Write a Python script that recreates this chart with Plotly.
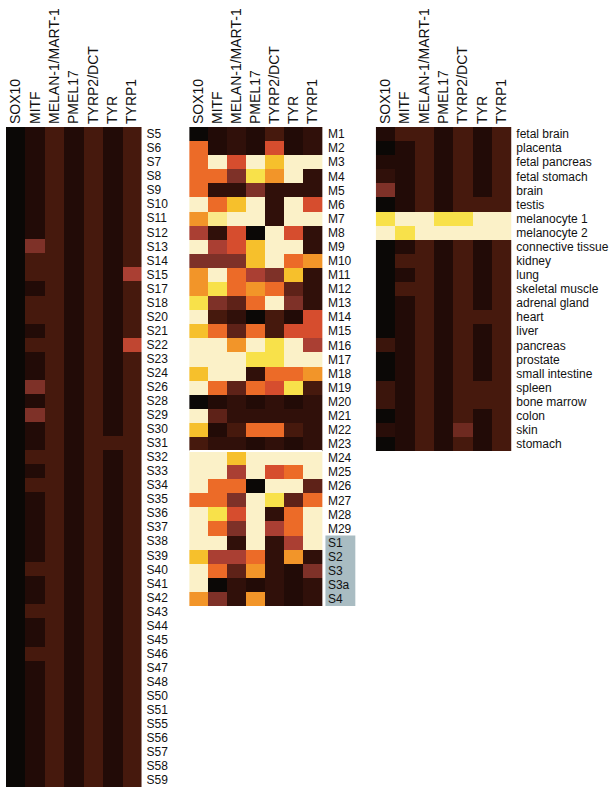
import plotly.graph_objects as go

W, H = 609, 789

genes = ["SOX10", "MITF", "MELAN-1/MART-1", "PMEL17", "TYRP2/DCT", "TYR", "TYRP1"]

# expression level per cell, 0 (none) .. 12 (highest); columns follow `genes`
serum_rows = ["S5", "S6", "S7", "S8", "S9", "S10", "S11", "S12", "S13", "S14",
              "S15", "S17", "S18", "S20", "S21", "S22", "S23", "S24", "S26", "S28",
              "S29", "S30", "S31", "S32", "S33", "S34", "S35", "S36", "S37", "S38",
              "S39", "S40", "S41", "S42", "S43", "S44", "S45", "S46", "S47", "S48",
              "S50", "S51", "S55", "S56", "S57", "S58", "S59"]
serum_values = [
    [0, 1, 3, 1, 3, 1, 3],  # S5
    [0, 1, 3, 1, 3, 1, 3],  # S6
    [0, 1, 3, 1, 3, 1, 3],  # S7
    [0, 1, 3, 1, 3, 1, 3],  # S8
    [0, 1, 3, 1, 3, 1, 3],  # S9
    [0, 1, 3, 1, 3, 1, 3],  # S10
    [0, 1, 3, 1, 3, 1, 3],  # S11
    [0, 1, 3, 1, 3, 1, 3],  # S12
    [0, 5, 3, 1, 3, 1, 3],  # S13
    [0, 3, 3, 1, 3, 1, 3],  # S14
    [0, 3, 3, 1, 3, 1, 6],  # S15
    [0, 1, 3, 1, 3, 1, 3],  # S17
    [0, 3, 3, 1, 3, 1, 3],  # S18
    [0, 3, 3, 1, 3, 1, 3],  # S20
    [0, 1, 3, 1, 3, 1, 3],  # S21
    [0, 3, 3, 1, 3, 1, 6.5],  # S22
    [0, 1, 3, 1, 3, 1, 3],  # S23
    [0, 1, 3, 1, 3, 1, 3],  # S24
    [0, 5, 3, 1, 3, 1, 3],  # S26
    [0, 1, 3, 1, 3, 1, 3],  # S28
    [0, 5, 3, 1, 3, 1, 3],  # S29
    [0, 1, 3, 1, 3, 1, 3],  # S30
    [0, 1, 3, 1, 3, 3, 3],  # S31
    [0, 3, 3, 1, 3, 1, 3],  # S32
    [0, 1, 3, 1, 3, 1, 3],  # S33
    [0, 3, 3, 1, 3, 1, 3],  # S34
    [0, 1, 3, 1, 3, 1, 3],  # S35
    [0, 1, 3, 1, 3, 1, 3],  # S36
    [0, 1, 3, 1, 3, 1, 3],  # S37
    [0, 1, 3, 1, 3, 1, 3],  # S38
    [0, 1, 3, 1, 3, 1, 3],  # S39
    [0, 3, 3, 1, 3, 1, 3],  # S40
    [0, 1, 3, 1, 3, 1, 3],  # S41
    [0, 1, 3, 1, 3, 1, 3],  # S42
    [0, 3, 3, 1, 3, 1, 3],  # S43
    [0, 1, 3, 1, 3, 1, 3],  # S44
    [0, 1, 3, 1, 3, 1, 3],  # S45
    [0, 3, 3, 1, 3, 1, 3],  # S46
    [0, 1, 3, 1, 3, 1, 3],  # S47
    [0, 1, 3, 1, 3, 1, 3],  # S48
    [0, 1, 3, 1, 3, 1, 3],  # S50
    [0, 1, 3, 1, 3, 1, 3],  # S51
    [0, 1, 3, 1, 3, 1, 3],  # S55
    [0, 1, 3, 1, 3, 1, 3],  # S56
    [0, 1, 3, 1, 3, 1, 3],  # S57
    [0, 1, 3, 1, 3, 1, 3],  # S58
    [0, 1, 3, 1, 3, 1, 3],  # S59
]

tumor_rows = ["M1", "M2", "M3", "M4", "M5", "M6", "M7", "M8", "M9", "M10",
              "M11", "M12", "M13", "M14", "M15", "M16", "M17", "M18", "M19", "M20",
              "M21", "M22", "M23", "M24", "M25", "M26", "M27", "M28", "M29",
              "S1", "S2", "S3", "S3a", "S4"]
tumor_values = [
    [0, 1, 2, 1, 3, 1, 2],        # M1
    [8, 1, 2, 1, 7, 1, 2],        # M2
    [8, 12, 7, 12, 10, 12, 12],   # M3
    [8, 8, 5, 11, 9, 12, 2],      # M4
    [8, 2, 2, 5, 2, 2, 2],        # M5
    [12, 8, 10, 12, 2, 12, 7],    # M6
    [9, 11.5, 12, 12, 2, 12, 12],  # M7
    [6, 2, 7, 0, 12, 7, 2],       # M8
    [12, 6, 7, 10, 12, 12, 2],    # M9
    [5, 5, 5, 10, 12, 8, 9],      # M10
    [9, 12, 8, 6, 5, 10, 2],      # M11
    [9, 11, 8, 9, 8, 4, 2],       # M12
    [11, 5, 4, 8, 12, 5, 2],      # M13
    [12, 3, 2, 0, 3, 1, 7],       # M14
    [10, 8, 4, 8, 3, 7, 7],       # M15
    [12, 12, 9, 12, 11, 12, 6],   # M16
    [12, 12, 12, 11, 11, 12, 12],  # M17
    [10, 12, 12, 2, 8, 8, 9],     # M18
    [12, 8, 4, 8, 7, 11, 3],      # M19
    [0, 1, 2, 1, 2, 1, 2],        # M20
    [12, 4, 2, 2, 2, 2, 2],       # M21
    [10, 1, 3, 8, 8, 3, 2],       # M22
    [3, 2, 2, 1, 2, 1, 2],        # M23
    [12, 12, 10, 12, 12, 12, 12],  # M24
    [12, 12, 6, 12, 7, 8, 12],    # M25
    [12, 8, 8, 0, 12, 12, 4],     # M26
    [8, 8, 5, 12, 11, 4, 8],      # M27
    [12, 11, 7, 12, 2, 8, 12],    # M28
    [12, 8, 5, 12, 6, 8, 12],     # M29
    [12, 12, 2, 12, 2, 6, 12],    # S1
    [10, 6, 6, 8, 2, 9, 2],       # S2
    [12, 8, 4, 9, 2, 1, 5],       # S3
    [12, 0, 2, 1, 2, 1, 2],       # S3a
    [9, 5, 2, 9, 2, 1, 2],        # S4
]
cell_line_rows = ["S1", "S2", "S3", "S3a", "S4"]
split_after = "M23"

tissue_rows = ["fetal brain", "placenta", "fetal pancreas", "fetal stomach", "brain",
               "testis", "melanocyte 1", "melanocyte 2", "connective tissue", "kidney",
               "lung", "skeletal muscle", "adrenal gland", "heart", "liver", "pancreas",
               "prostate", "small intestine", "spleen", "bone marrow", "colon", "skin",
               "stomach"]
tissue_values = [
    [1, 3, 3, 1, 3, 1, 3],        # fetal brain
    [0, 1, 3, 1, 3, 1, 3],        # placenta
    [1, 1, 3, 1, 3, 1, 3],        # fetal pancreas
    [2, 1, 3, 1, 3, 1, 3],        # fetal stomach
    [5, 1, 3, 1, 3, 1, 3],        # brain
    [0, 1, 3, 1, 3, 3, 3],        # testis
    [11, 12, 12, 11, 11, 12, 12],  # melanocyte 1
    [12, 11, 12, 12, 12, 12, 12],  # melanocyte 2
    [0, 1, 3, 1, 3, 1, 3],        # connective tissue
    [0, 3, 3, 1, 3, 1, 3],        # kidney
    [0, 1, 3, 1, 3, 1, 3],        # lung
    [0, 3, 3, 1, 3, 1, 3],        # skeletal muscle
    [0, 1, 3, 1, 3, 1, 3],        # adrenal gland
    [0, 1, 3, 1, 3, 3, 3],        # heart
    [0, 1, 3, 1, 3, 1, 3],        # liver
    [2.5, 1, 3, 1, 3, 1, 3],      # pancreas
    [0, 1, 3, 1, 3, 1, 3],        # prostate
    [0, 1, 3, 1, 3, 1, 3],        # small intestine
    [2.5, 1, 3, 1, 3, 3, 3],      # spleen
    [2.5, 1, 3, 1, 3, 3, 3],      # bone marrow
    [0, 1, 3, 1, 3, 1, 3],        # colon
    [1.5, 1, 3, 1, 4.5, 1, 3],    # skin
    [0, 1, 3, 1, 3, 1, 3],        # stomach
]

# "hot" palette: black -> brown -> red -> orange -> yellow -> cream
level_colors = ["#0b0806", "#220b07", "#30100a", "#46190d", "#5e2218", "#7e3128",
                "#aa3f33", "#d64d2e", "#ec6b28", "#f29529", "#f6c02c", "#f8e14a",
                "#fbf1c8"]
n = len(level_colors) - 1
colorscale = [[i / n, c] for i, c in enumerate(level_colors)]


def px_x(v):
    return v / W


def px_y(v):
    return 1 - v / H


panels = [
    (serum_rows, serum_values, (6, 142), (127, 787)),
    (tumor_rows, tumor_values, (189, 324), (127, 606)),
    (tissue_rows, tissue_values, (377, 513), (127, 451)),
]

header_font = dict(family="Liberation Sans, Arial, Helvetica, sans-serif",
                   size=14, color="#111111")
row_font = dict(family="Liberation Sans, Arial, Helvetica, sans-serif", size=12, color="#111111")

fig = go.Figure()
layout = dict(width=W, height=H, margin=dict(l=0, r=0, t=0, b=0),
              paper_bgcolor="white", plot_bgcolor="white", showlegend=False)

for i, (rows, vals, (x0, x1), (y0, y1)) in enumerate(panels, start=1):
    sfx = "" if i == 1 else str(i)
    fig.add_trace(go.Heatmap(
        z=vals, x=genes, y=rows, xaxis="x" + sfx, yaxis="y" + sfx,
        colorscale=colorscale, zmin=0, zmax=n, showscale=False,
    ))
    layout["xaxis" + sfx] = dict(
        domain=[px_x(x0), px_x(x1)], anchor="y" + sfx, side="top",
        tickmode="array", tickvals=genes, ticktext=genes,
        tickangle=-90, tickfont=header_font, showgrid=False, zeroline=False,
        showline=False, ticks="", ticklabelstandoff=2, fixedrange=True,
    )
    layout["yaxis" + sfx] = dict(
        domain=[px_y(y1), px_y(y0)], anchor="x" + sfx, side="right",
        tickmode="array", tickvals=rows, ticktext=rows,
        autorange="reversed", tickfont=row_font, showgrid=False, zeroline=False,
        showline=False, ticks="", ticklabelstandoff=4, fixedrange=True,
    )

fig.update_layout(**layout)

# thin separator between the tumour blocks
split_idx = tumor_rows.index(split_after) + 0.5
fig.add_shape(type="line", xref="x2", yref="y2", x0=-0.5, x1=len(genes) - 0.5,
              y0=split_idx, y1=split_idx, line=dict(color="white", width=2))

# shaded label box for the cell lines
first = tumor_rows.index(cell_line_rows[0]) - 0.5
last = tumor_rows.index(cell_line_rows[-1]) + 0.5
fig.add_shape(type="rect", xref="paper", yref="y2", x0=px_x(326.5), x1=px_x(356.5),
              y0=first, y1=last, fillcolor="#a9bcc2", line=dict(width=0), layer="below")

fig.write_html("out.html")
